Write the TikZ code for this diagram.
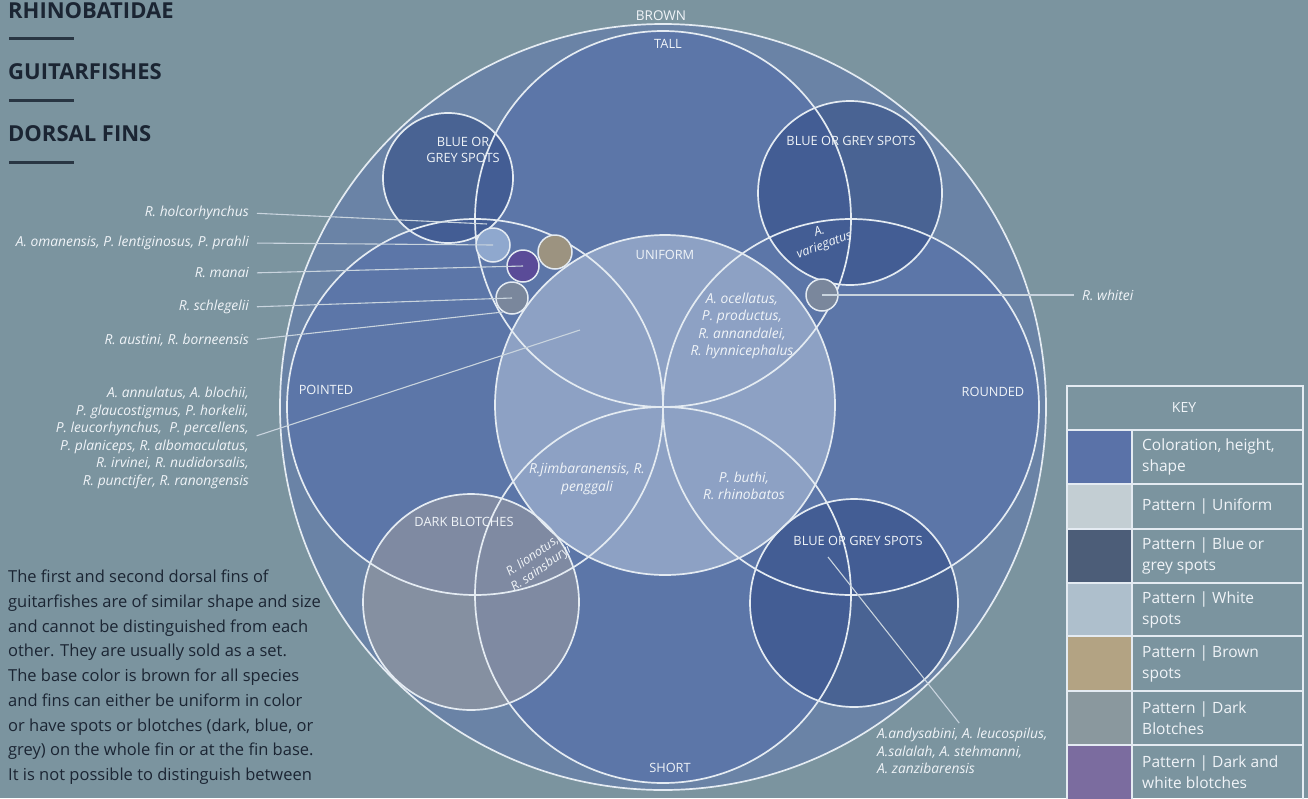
\documentclass[tikz,border=0pt]{standalone}
\usepackage{fontspec}
\setmainfont{Open Sans}
\definecolor{bg}{HTML}{7B949F}
\definecolor{outerfill}{HTML}{6A83A6}
\definecolor{bigfill}{HTML}{5C76A8}
\definecolor{unifill}{HTML}{CAD6E8}
\definecolor{spotfill}{HTML}{2F4A85}
\definecolor{blotchfill}{HTML}{9C9C9E}
\definecolor{ringcol}{HTML}{E4EBF2}
\definecolor{leadcol}{HTML}{C9D4DE}
\definecolor{labcol}{HTML}{F0F4F8}
\definecolor{darktxt}{HTML}{1B2533}
\definecolor{wspot}{HTML}{8FA8CE}
\definecolor{purp}{HTML}{5A4B98}
\definecolor{brwn}{HTML}{9C9380}
\definecolor{greyd}{HTML}{7A879C}
\definecolor{keyA}{HTML}{5A72A8}
\definecolor{keyB}{HTML}{C3CED3}
\definecolor{keyC}{HTML}{4C5D78}
\definecolor{keyD}{HTML}{AEBFCC}
\definecolor{keyE}{HTML}{B3A383}
\definecolor{keyF}{HTML}{8A989E}
\definecolor{keyG}{HTML}{7B6C9F}
\begin{document}
\begin{tikzpicture}[x=1pt,y=-1pt,
  ring/.style={draw=ringcol,line width=1.7pt},
  leader/.style={draw=leadcol,line width=1.1pt,shorten <=7pt},
  ringtxt/.style={text=labcol,inner sep=1pt,align=center,font=\fontsize{12.8}{16}\selectfont},
  spp/.style={text=labcol,inner sep=1pt,align=center,font=\fontsize{13.8}{17.5}\selectfont\itshape},
  lbl/.style={spp,anchor=east,align=right},
  spotdot/.style={circle,draw=ringcol,line width=1.5pt,inner sep=0pt,minimum size=#1},
  ttl/.style={text=darktxt,anchor=west,inner sep=0pt,font=\fontsize{22}{26}\selectfont\bfseries},
  keyline/.style={draw=ringcol,line width=1.8pt},
  keyrow/.style={text=labcol,anchor=west,align=left,inner sep=0pt,font=\fontsize{15.5}{21}\selectfont}]
  \useasboundingbox (0,0) rectangle (1308,798);
  \fill[bg] (0,0) rectangle (1308,798);

  \coordinate (ctr) at (663,407);
  \coordinate (tall) at (663,219);
  \coordinate (short) at (663,595);
  \coordinate (pointed) at (475,407);
  \coordinate (rounded) at (851,407);
  \coordinate (uni) at (665,405);
  \coordinate (spl) at (448,178);
  \coordinate (spr) at (850,193);
  \coordinate (spb) at (854,603);
  \coordinate (blo) at (471,602);

  \fill[outerfill] (ctr) circle (383pt);
  \foreach \c in {tall,short,pointed,rounded}
    \fill[bigfill] (\c) circle (188pt);
  \fill[unifill,fill opacity=.45] (uni) circle (170pt);
  \foreach \c/\r in {spl/65,spr/92,spb/104}
    \fill[spotfill,fill opacity=.55] (\c) circle (\r pt);
  \fill[blotchfill,fill opacity=.55] (blo) circle (108pt);
  \foreach \c/\r in {ctr/383,tall/188,short/188,pointed/188,rounded/188,uni/170,spl/65,spr/92,spb/104,blo/108}
    \draw[ring] (\c) circle (\r pt);

  \node[spotdot=34pt,fill=wspot] (wsp) at (493,245) {};
  \node[spotdot=32pt,fill=purp] (dkw) at (523,266) {};
  \node[spotdot=34pt,fill=brwn] (brs) at (555,252) {};
  \node[spotdot=32pt,fill=greyd] (gra) at (512,298) {};
  \node[spotdot=32pt,fill=greyd] (grb) at (822,295) {};

  \node[lbl] (holco) at (250,213) {R. holcorhynchus};
  \node[lbl] (omane) at (250,243) {A. omanensis, P. lentiginosus, P. prahli};
  \node[lbl] (manai) at (250,273) {R. manai};
  \node[lbl] (schle) at (250,307) {R. schlegelii};
  \node[lbl] (austi) at (250,340) {R. austini, R. borneensis};
  \node[lbl] (annul) at (250,438)
    {A. annulatus, A. blochii,\\P. glaucostigmus, P. horkelii,\\P. leucorhynchus,~ P. percellens,\\P. planiceps, R. albomaculatus,\\R. irvinei, R. nudidorsalis,\\R. punctifer, R. ranongensis};
  \node[spp,anchor=west] (white) at (1081,295) {R. whitei};
  \node[spp,align=left,anchor=north west] (andy) at (876,727)
    {A.andysabini, A. leucospilus,\\A.salalah, A. stehmanni,\\A. zanzibarensis};

  \coordinate (holcopt) at (487,224);
  \coordinate (austipt) at (503,312);
  \coordinate (annulpt) at (580,330);
  \coordinate (andypt) at (828,557);
  \draw[leader] (holco.east) -- (holcopt);
  \draw[leader] (omane.east) -- (wsp.center);
  \draw[leader] (manai.east) -- (dkw.center);
  \draw[leader] (schle.east) -- (gra.center);
  \draw[leader] (austi.east) -- (austipt);
  \draw[leader] (annul.east) -- (annulpt);
  \draw[leader] (white.west) -- (grb.center);
  \draw[leader,shorten <=0pt,shorten >=5pt] (andypt) -- (andy.north);

  \node[ringtxt,font=\fontsize{13.5}{16}\selectfont] (brown) at (661,16) {BROWN};
  \node[ringtxt] (talltx) at (668,44) {TALL};
  \node[ringtxt] (shorttx) at (670,768) {SHORT};
  \node[ringtxt] (pointtx) at (326,390) {POINTED};
  \node[ringtxt] (roundtx) at (993,392) {ROUNDED};
  \node[ringtxt] (unitx) at (665,255) {UNIFORM};
  \node[ringtxt] (spltx) at (463,150) {BLUE OR\\GREY SPOTS};
  \node[ringtxt] (sprtx) at (851,141) {BLUE OR GREY SPOTS};
  \node[ringtxt] (spbtx) at (858,541) {BLUE OR GREY SPOTS};
  \node[ringtxt] (blotx) at (464,522) {DARK BLOTCHES};
  \node[spp,rotate=20,font=\fontsize{12.5}{14}\selectfont\itshape] (varieg) at (822,239) {A.\\variegatus};
  \node[spp] (ocell) at (742,326) {A. ocellatus,\\P. productus,\\R. annandalei,\\R. hynnicephalus};
  \node[spp] (jimba) at (587,479) {R.jimbaranensis, R.\\penggali};
  \node[spp] (buthi) at (744,486) {P. buthi,\\R. rhinobatos};
  \node[spp,rotate=35,font=\fontsize{12.5}{15}\selectfont\itshape] (liono) at (537,563) {R. lionotus,\\R. sainsburyi};

  \node[ttl] (fam) at (8,11) {RHINOBATIDAE};
  \node[ttl] (grp) at (8,72) {GUITARFISHES};
  \node[ttl] (part) at (8,134) {DORSAL FINS};
  \foreach \y in {38,100,162}
    \draw[darktxt!85!bg,line width=3pt] (9,\y) -- (74,\y);

  \node[text=darktxt,anchor=north west,align=left,inner sep=0pt,font=\fontsize{16.5}{24.7}\selectfont] (para) at (8,570)
    {The first and second dorsal fins of\\guitarfishes are of similar shape and size\\and cannot be distinguished from each\\other. They are usually sold as a set.\\The base color is brown for all species\\and fins can either be uniform in color\\or have spots or blotches (dark, blue, or\\grey) on the whole fin or at the fin base.\\It is not possible to distinguish between};

  \node[text=labcol,font=\fontsize{14}{16}\selectfont] (keyhd) at (1184,407) {KEY};
  \foreach \i/\ya/\yb/\col/\txt in {1/430/484/keyA/{Coloration, height,\\shape},
      2/484/529/keyB/{Pattern | Uniform},
      3/529/583/keyC/{Pattern | Blue or\\grey spots},
      4/583/636/keyD/{Pattern | White\\spots},
      5/636/691/keyE/{Pattern | Brown\\spots},
      6/691/745/keyF/{Pattern | Dark\\Blotches},
      7/745/800/keyG/{Pattern | Dark and\\white blotches}} {
    \fill[\col] (1068,\ya) rectangle (1131,\yb);
    \draw[keyline] (1067,\ya) -- (1303,\ya);
    \node[keyrow] (key\i) at (1142,{(\ya+\yb)/2}) {\txt};
  }
  \draw[keyline] (1132,430) -- (1132,800);
  \draw[keyline] (1067,386) rectangle (1303,800);
\end{tikzpicture}
\end{document}
